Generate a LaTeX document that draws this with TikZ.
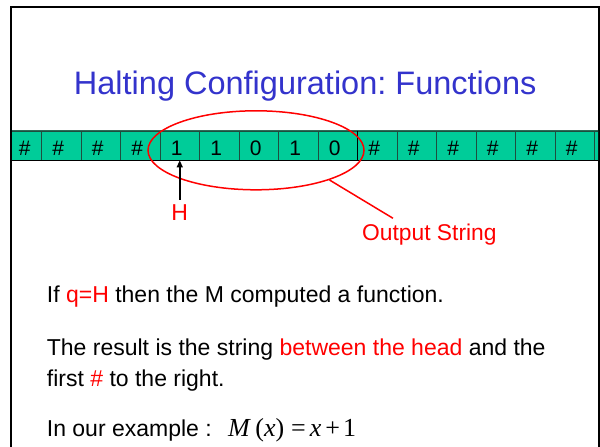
\documentclass[tikz,border=0pt]{standalone}
\usepackage{fontspec}
\setmainfont{Liberation Sans}
\newfontfamily\timesfont{Liberation Serif}
\usetikzlibrary{shapes.geometric,arrows.meta}
\definecolor{tapegreen}{HTML}{00CC99}
\definecolor{cellline}{HTML}{1E4D3E}
\definecolor{topline}{HTML}{2F6B58}
\definecolor{titleblue}{HTML}{3333CC}
\frenchspacing
\tikzset{
  frameline/.style={draw=black, line width=2pt},
  cell/.style={draw=cellline, line width=0.8pt, fill=tapegreen, minimum width=39.5pt, minimum height=29pt, inner sep=0pt},
  symbol/.style={anchor=base, inner sep=0pt, font=\fontsize{21}{24}\selectfont},
  bodytext/.style={anchor=base west, inner sep=0pt, font=\fontsize{23}{27}\selectfont},
  titletext/.style={anchor=base, inner sep=0pt, text=titleblue, font=\fontsize{32.5}{38}\selectfont},
  redlabel/.style={inner sep=0pt, text=red, font=\fontsize{23}{27}\selectfont},
  redline/.style={draw=red, line width=1.5pt},
  headarrow/.style={draw=black, line width=1.5pt, -{Triangle[length=7pt,width=6pt]}}
}
\begin{document}
\begin{tikzpicture}[x=1pt,y=-1pt]
\useasboundingbox (0,0) rectangle (600,447);
% frame
\draw[frameline] (11,452) -- (11,7) -- (599,7) -- (599,452);
% title
\node[titletext] (title) at (305.2,94) {Halting Configuration: Functions};
% tape
\begin{scope}
  \clip (12,120) rectangle (598,170);
  \foreach \i in {0,...,15}
    \node[cell] (c\i) at ({41.5+39.5*(\i-0.5)},145.5) {};
  \draw[topline, line width=1pt] (c0.north west) -- (c15.north east);
  \draw[black, line width=1.3pt] (c0.south west) -- (c15.south east);
  \draw[black, line width=1pt] (c8.north east) -- (c8.south east);
\end{scope}
\node[symbol] (s0) at (24.7,155.9) {\#};
\foreach \i/\s in {1/\#,2/\#,3/\#,4/1,5/1,6/0,7/1,8/0,9/\#,10/\#,11/\#,12/\#,13/\#,14/\#}
  \node[symbol] (s\i) at ({41.5+39.5*(\i-0.5)-3},155.9) {\s};
% ellipse around output
\node[ellipse, redline, minimum width=216pt, minimum height=79pt, inner sep=0pt] (ell) at (256,150.3) {};
% head
\node[redlabel, anchor=base] (H) at (179.75,220) {H};
\draw[headarrow] ([yshift=4pt]H.north) -- (c4.south);
% output string label
\node[redlabel, anchor=base west, font=\fontsize{22.8}{27}\selectfont] (out) at (362,240) {Output String};
\draw[redline] (ell.-22) -- ([xshift=31pt,yshift=5pt]out.north west);
% body text
\node[bodytext] (l1) at (46.7,302.9) {If \textcolor{red}{q=H} then the M computed a function.};
\node[bodytext] (l2) at (46.7,355.7) {The result is the string \textcolor{red}{between the head} and the};
\node[bodytext] (l3) at (46.7,386.3) {first \textcolor{red}{\#} to the right.};
\node[bodytext] (l4) at (46.7,436) {In our example :};
\node[anchor=base west, inner sep=0pt, font=\fontsize{26}{30}\timesfont] (fx) at (228,436)
  {\textit{M}\,(\textit{x})\hspace{7pt}=\hspace{4pt}\textit{x}\hspace{4pt}+\hspace{3pt}1};
\end{tikzpicture}
\end{document}
